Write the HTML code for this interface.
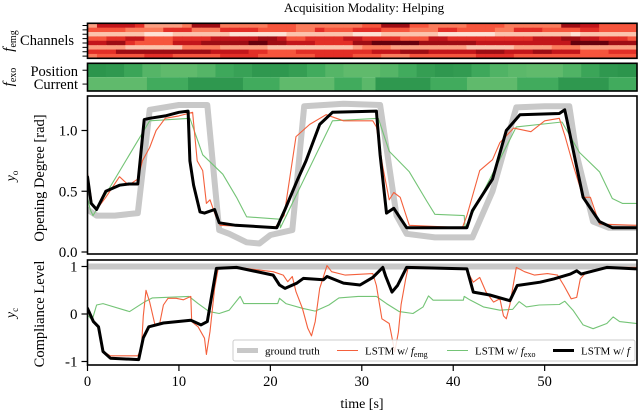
<!DOCTYPE html>
<html><head><meta charset="utf-8"><style>
html,body{margin:0;padding:0;background:#fff}
svg{display:block;font-family:"Liberation Serif",serif}
</style></head><body>
<svg id="chart" width="640" height="414" viewBox="0 0 640 414" xmlns="http://www.w3.org/2000/svg">
<text x="364" y="12" font-size="13" text-anchor="middle">Acquisition Modality: Helping</text>
<g id="heat"></g>
<g id="exo"></g>
<g id="mid"></g>
<g id="bot"></g>
<text x="74" y="45" font-size="14.5" text-anchor="end">Channels</text>
<text x="78" y="76" font-size="14.5" text-anchor="end">Position</text>
<text x="78" y="89" font-size="14.5" text-anchor="end">Current</text>
<text transform="translate(13,41) rotate(-90)" font-size="15" text-anchor="middle"><tspan font-style="italic">f</tspan><tspan font-size="10" dy="3">emg</tspan></text>
<text transform="translate(13,77) rotate(-90)" font-size="15" text-anchor="middle"><tspan font-style="italic">f</tspan><tspan font-size="10" dy="3">exo</tspan></text>
<text transform="translate(15,176) rotate(-90)" font-size="14" text-anchor="middle"><tspan font-style="italic">y</tspan><tspan font-size="9" dy="3">o</tspan></text>
<text transform="translate(44,178) rotate(-90)" font-size="14.5" text-anchor="middle">Opening Degree [rad]</text>
<text transform="translate(15,313) rotate(-90)" font-size="14" text-anchor="middle"><tspan font-style="italic">y</tspan><tspan font-size="9" dy="3">c</tspan></text>
<text transform="translate(44,314) rotate(-90)" font-size="14.5" text-anchor="middle">Compliance Level</text>
<text x="362" y="408" font-size="14" text-anchor="middle">time [s]</text>
</svg>
<script>
// ---- data ----
const emgRows = [
"3777763333488844444555444444455888554444555544444488775555",
"5555444466644466665555446555666555444665555446665555665555",
"2222221112222221111112222222111222222111111222222221222222",
"5566775556666777778875566667766665557766666666677788776665",
"7788655557778888899887776666889999988888877777777779999888",
"3333222222444433333222222222344433333333222223333444333333",
"6668888888888777766555666666667778887777788877788777555666",
"4555556665555566665555556666555444555555566665555555555555"];
const posTimes = [0,2,4,6,8,10,12,14,16,18,20,22,24,26,28,30,32,34,36,38,40,42,44,46,48,50,52,54,56,58];
const posVals = [0.85,0.8,0.6,0.3,0.2,0.2,0.3,0.55,0.65,0.8,0.8,0.7,0.5,0.3,0.2,0.2,0.3,0.5,0.7,0.8,0.75,0.55,0.35,0.25,0.2,0.2,0.35,0.6,0.8,0.85];
const curTimes = [0,6.5,11,17,21,27,30,31.5,37.5,41.5,47,51.5,57];
const curVals = [0.2,0.5,0.8,0.5,0.2,0.5,0.25,0.8,0.5,0.2,0.5,0.8,0.5];

const gtT = [0,1,3,5.5,6.8,10,13.1,14.4,15.5,17.4,18.8,20,22.4,23.7,28,32,33.8,34.9,38,42.1,44.3,46.9,50,52.7,53.5,55.3,57,60.1];
const gtV = [0.35,0.3,0.3,0.32,1.17,1.21,1.21,0.18,0.15,0.08,0.07,0.14,0.18,1.2,1.22,1.21,0.3,0.15,0.12,0.12,0.5,1.19,1.2,1.2,0.8,0.25,0.2,0.2];
const fT = [0,0.4,1,2,3.5,4.5,5.5,5.8,6.2,6.8,8.5,10,11,11.2,11.6,12.3,12.8,13.9,14.4,16.2,20.7,21.6,23,23.9,25.4,26.8,31.6,32,32.7,33.5,34.9,41.5,42.1,44.3,45.8,47.3,51.6,52.2,53.5,54.2,56,57.4,60.1];
const fV = [0.62,0.4,0.35,0.5,0.55,0.56,0.56,0.78,1.09,1.1,1.12,1.15,1.16,0.75,0.55,0.33,0.32,0.35,0.24,0.22,0.2,0.35,0.6,0.75,1.05,1.15,1.16,0.8,0.32,0.36,0.2,0.2,0.34,0.6,1.0,1.13,1.14,1.17,0.7,0.45,0.25,0.2,0.2];
const eT = [0,0.5,1,2,3.5,4.5,5.5,6,6.8,7.5,8.5,10,11.5,12,12.6,13,13.4,14,14.5,20.5,21.5,22.8,24.3,26.1,28,31.2,31.6,32.3,33,33.5,34.2,35.2,41,41.5,42.9,44.3,45.1,46.6,48.5,50,51.6,52.2,53.1,54.2,55,56,60.1];
const eV = [0.65,0.4,0.35,0.45,0.62,0.55,0.6,0.75,0.86,1.0,1.1,1.12,1.15,0.75,0.67,0.4,0.43,0.3,0.22,0.2,0.3,0.95,1.05,1.13,1.08,1.08,1.03,0.7,0.43,0.49,0.45,0.22,0.2,0.3,0.67,0.76,0.9,1.02,0.99,1.08,1.1,0.96,0.72,0.45,0.45,0.23,0.22];
const xT = [0,0.3,0.6,6.8,11.2,12.6,14.8,16.3,17.4,21,21.1,26.8,31.8,33,35.2,37.1,38,41.2,41.3,46.9,51.9,53.8,56,57.4,58.5,60.1];
const xV = [0.45,0.35,0.3,1.08,1.1,0.8,0.64,0.45,0.29,0.27,0.2,1.08,1.1,0.83,0.66,0.42,0.31,0.3,0.2,1.03,1.07,0.82,0.66,0.44,0.4,0.4];

const cGtT = [0,60.1];
const cGtV = [1,1];
const cfT = [0,0.65,1.2,1.7,2.5,5.6,6.1,6.7,8.3,11.3,12.4,13.1,13.6,14.1,16.3,20.3,21,21.6,22.9,23.6,25.8,26.2,28,29.8,31.2,32.3,32.6,33.3,33.9,34.9,41.5,42.2,44,46.2,47,49.5,51,52.8,53.5,54,56.8,60.1];
const cfV = [0.12,-0.16,-0.27,-0.79,-0.93,-0.96,-0.5,-0.27,-0.19,-0.13,-0.23,-0.16,0.4,0.96,0.98,0.82,0.61,0.54,0.65,0.75,0.72,0.79,0.65,0.61,0.77,0.98,0.8,0.46,0.6,0.98,0.95,0.46,0.4,0.28,0.6,0.67,0.74,0.84,0.91,0.84,0.98,0.95];
const ceT = [0,0.6,1.2,1.8,2.5,5.5,5.9,6.1,6.4,6.8,7.4,7.9,8.3,8.8,9.7,10.5,11.3,11.4,12.1,12.8,13.0,13.4,13.9,14.3,16.4,20.3,21.4,21.9,22.4,22.8,23.5,24.1,24.5,24.9,25.4,26.2,26.7,28.2,31.2,31.6,32.2,33,33.2,33.6,34,34.3,34.8,35.1,41.4,42.2,42.9,43.6,44.4,45.1,45.5,45.8,46.2,46.9,47.8,48.9,50.3,51.4,52.1,52.9,53.5,53.9,54.6,56.8,60.1];
const ceV = [0.12,-0.12,-0.3,-0.8,-0.88,-0.88,-0.72,-0.04,0.5,0.25,-0.25,-0.2,0.19,0.33,0.33,0.3,0.37,-0.16,-0.27,-0.51,-0.85,-0.37,0.54,0.96,0.98,0.89,0.82,0.68,0.79,0.47,0.12,-0.3,-0.46,-0.16,0.54,1.02,0.89,0.82,0.85,0.6,-0.1,-0.2,-0.4,-0.8,-0.38,0.2,0.74,1.0,0.95,0.67,0.77,0.46,0.25,0.32,-0.04,-0.1,0.2,0.98,0.89,0.82,0.85,0.82,0.6,0.32,0.35,0.74,0.89,0.98,0.98];
const cxT = [0,0.5,1.0,1.7,4.6,6.3,7.1,11.1,12.1,13.3,14.4,15.5,16.7,17.1,20.8,21,21.7,23.5,24.9,26.4,27.5,29.6,31.6,32.7,34.1,35.6,36.7,37.3,37.8,41.1,41.2,41.8,43.3,45.1,46.5,47.2,48,49.4,51.6,52.2,53.1,54.2,55.3,56.8,57.5,58.2,60.1];
const cxV = [-0.02,-0.13,0.19,0.22,0.05,0.26,0.34,0.37,0.22,0.05,0.01,0.08,0.37,0.22,0.22,0.33,0.22,0.12,0.06,0.19,0.34,0.37,0.37,0.22,0.05,0.01,0.15,0.38,0.29,0.29,0.37,0.3,0.15,0.08,0.1,0.26,0.15,0.19,0.2,0.27,0.08,-0.23,-0.31,-0.2,-0.06,-0.16,-0.2];
const xTicks = [0,10,20,30,40,50];
const yTicksMid = [0,0.5,1.0];
const yTicksBot = [-1,0,1];

// ---- scales ----
const X0=87.5, X1=637, TMAX=60.1;
const xs = t => X0 + t*(X1-X0)/TMAX;
const ym = v => 252 - v*121.5;
const yb = v => 314 - v*47.5;
const NS="http://www.w3.org/2000/svg";
function mk(tag, attrs, parent){const e=document.createElementNS(NS,tag);for(const k in attrs)e.setAttribute(k,attrs[k]);parent.appendChild(e);return e;}
function lerpC(a,b,f){return a.map((v,i)=>Math.round(v+(b[i]-v)*f));}
const reds=[[255,245,240],[254,224,210],[252,187,161],[252,146,114],[251,106,74],[239,59,44],[203,24,29],[165,15,21],[103,0,13]];
function redC(d){const v=d/9*(reds.length-1);const i=Math.min(Math.floor(v),reds.length-2);const c=lerpC(reds[i],reds[i+1],v-i);return `rgb(${c})`;}
const greens=[[116,196,118],[65,171,93],[35,139,69]];
function greenC(v){const p=Math.max(0,Math.min(1,v))*2;const i=Math.min(Math.floor(p),1);const c=lerpC(greens[i],greens[i+1],p-i);return `rgb(${c})`;}

// heatmap
const heat=document.getElementById('heat');
const HY0=23.3,HY1=58.3,rh=(HY1-HY0)/emgRows.length;
emgRows.forEach((row,r)=>{
  const cw=(X1-X0)/row.length;
  for(let c=0;c<row.length;c++){
    const cell=mk('rect',{x:X0+c*cw,y:HY0+r*rh,width:cw+0.6,height:rh+0.3,fill:redC(+row[c])},heat);
    
    
  }
  const tk=mk('line',{x1:X0-5,x2:X0,y1:HY0+(r+0.5)*rh,y2:HY0+(r+0.5)*rh,stroke:'#000','stroke-width':1},heat);
  
  
});
mk('rect',{x:X0,y:HY0,width:X1-X0,height:HY1-HY0,fill:'none',stroke:'#000','stroke-width':1.6},heat);

// exo heatmap
const exo=document.getElementById('exo');
const EY0=63.3,EY1=91,EM=(EY0+EY1)/2;
posTimes.forEach((t,i)=>{
  const t2=i+1<posTimes.length?posTimes[i+1]:TMAX;
  const cell=mk('rect',{x:xs(t),y:EY0,width:xs(t2)-xs(t)+0.6,height:EM-EY0,fill:greenC(posVals[i])},exo);
  
  
});
curTimes.forEach((t,i)=>{
  const t2=i+1<curTimes.length?curTimes[i+1]:TMAX;
  const cell=mk('rect',{x:xs(t),y:EM,width:xs(t2)-xs(t)+0.6,height:EY1-EM,fill:greenC(curVals[i])},exo);
  
  
});
[EY0+(EM-EY0)/2, EM+(EY1-EM)/2].forEach(y=>mk('line',{x1:X0-5,x2:X0,y1:y,y2:y,stroke:'#000'},exo));
mk('rect',{x:X0,y:EY0,width:X1-X0,height:EY1-EY0,fill:'none',stroke:'#000','stroke-width':1.6},exo);

function path(T,V,ys,g,color,w,name){
  let d='';T.forEach((t,i)=>{d+=(i?'L':'M')+xs(t).toFixed(1)+','+ys(V[i]).toFixed(1);});
  const p=mk('path',{d:d,fill:'none',stroke:color,'stroke-width':w,'stroke-linejoin':'round','stroke-linecap':'round'},g);
  
  
}
// middle panel
const mid=document.getElementById('mid');
mk('clipPath',{id:'cm'},mid).appendChild((()=>{const r=document.createElementNS(NS,'rect');r.setAttribute('x',X0);r.setAttribute('y',96);r.setAttribute('width',X1-X0);r.setAttribute('height',158);return r;})());
const mg=mk('g',{'clip-path':'url(#cm)'},mid);
path(gtT,gtV,ym,mg,'#c8c8c8',6,'ground-truth-line');
path(xT,xV,ym,mg,'#74c476',1.1,'lstm-exo-line');
path(eT,eV,ym,mg,'#f4603c',1.1,'lstm-emg-line');
path(fT,fV,ym,mg,'#000',3,'lstm-f-line');
mk('rect',{x:X0,y:96,width:X1-X0,height:158,fill:'none',stroke:'#000','stroke-width':1.6},mid);
yTicksMid.forEach(v=>{
  mk('line',{x1:X0-6,x2:X0,y1:ym(v),y2:ym(v),stroke:'#000','stroke-width':1.2},mid);
  const t=mk('text',{x:X0-10,y:ym(v)+5,'font-size':15,'text-anchor':'end'},mid);t.textContent=v.toFixed(1);
  
  
});

// bottom panel
const bot=document.getElementById('bot');
mk('clipPath',{id:'cb'},bot).appendChild((()=>{const r=document.createElementNS(NS,'rect');r.setAttribute('x',X0);r.setAttribute('y',260);r.setAttribute('width',X1-X0);r.setAttribute('height',105);return r;})());
const bg=mk('g',{'clip-path':'url(#cb)'},bot);
path(cGtT,cGtV,yb,bg,'#c8c8c8',6,'ground-truth-compliance-line');
path(cxT,cxV,yb,bg,'#74c476',1.1,'lstm-exo-compliance-line');
path(ceT,ceV,yb,bg,'#f4603c',1.1,'lstm-emg-compliance-line');
path(cfT,cfV,yb,bg,'#000',3,'lstm-f-compliance-line');
mk('rect',{x:X0,y:260,width:X1-X0,height:105,fill:'none',stroke:'#000','stroke-width':1.6},bot);
yTicksBot.forEach(v=>{
  mk('line',{x1:X0-6,x2:X0,y1:yb(v),y2:yb(v),stroke:'#000','stroke-width':1.2},bot);
  const t=mk('text',{x:X0-10,y:yb(v)+5,'font-size':15,'text-anchor':'end'},bot);t.textContent=String(v);
  
  
});
xTicks.forEach(v=>{
  mk('line',{x1:xs(v),x2:xs(v),y1:365,y2:371,stroke:'#000','stroke-width':1.2},bot);
  const t=mk('text',{x:xs(v),y:386,'font-size':14.5,'text-anchor':'middle'},bot);t.textContent=String(v);
  
  
});
// legend
const lg=mk('g',{},bot);


mk('rect',{x:233,y:340,width:402,height:21,rx:2,fill:'#fff','fill-opacity':0.85,stroke:'#ccc'},lg);
const items=[['#c8c8c8',5,237,'ground truth',null],['#f4603c',1.1,337,'LSTM w/ ','emg'],['#74c476',1.1,447,'LSTM w/ ','exo'],['#000',3,553,'LSTM w/ ','']];
items.forEach(it=>{
  mk('line',{x1:it[2],x2:it[2]+21,y1:350.5,y2:350.5,stroke:it[0],'stroke-width':it[1]},lg);
  const t=mk('text',{x:it[2]+28,y:354.5,'font-size':11},lg);
  
  
  if(it[4]===null){t.textContent=it[3];}
  else{
    const a=document.createElementNS(NS,'tspan');a.textContent=it[3];t.appendChild(a);
    const f=document.createElementNS(NS,'tspan');f.setAttribute('font-style','italic');f.textContent='f';t.appendChild(f);
    if(it[4]){const s=document.createElementNS(NS,'tspan');s.setAttribute('font-size','8');s.setAttribute('dy','2.5');s.textContent=it[4];t.appendChild(s);}
  }
});
</script>
</body></html>
